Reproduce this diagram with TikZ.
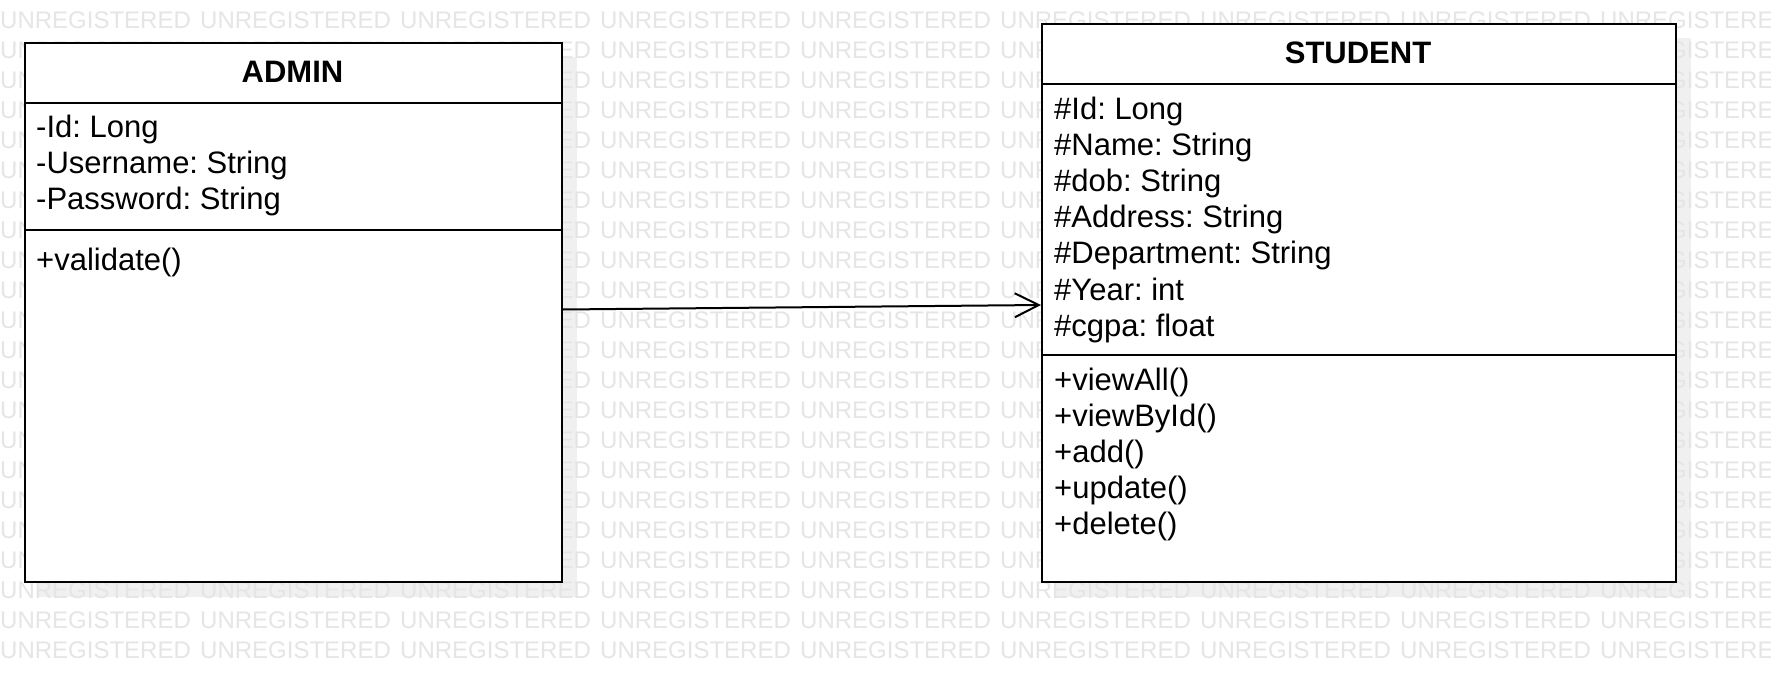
\documentclass[tikz,border=0pt]{standalone}
\usepackage{fontspec}
\setmainfont{Liberation Sans}
\usetikzlibrary{arrows.meta}
\definecolor{wm}{gray}{0.9}
\definecolor{shadowc}{gray}{0.94}
\frenchspacing
\begin{document}
\begin{tikzpicture}[x=1pt,y=-1pt,
  box/.style={draw=black, line width=2pt, fill=white, inner sep=0pt, anchor=north west},
  sep/.style={line width=2pt},
  txt/.style={anchor=base west, inner sep=0pt, font=\fontsize{31}{36}\selectfont},
  head/.style={anchor=base, inner sep=0pt, font=\fontsize{31}{36}\selectfont\bfseries},
  wmk/.style={anchor=base west, inner sep=0pt, text=wm, font=\fontsize{24}{28}\selectfont},
  assoc/.style={line width=2pt, -{Straight Barb[length=24pt, width=24pt, line width=2pt]}}]
\useasboundingbox (0,0) rectangle (1771,676);
\fill[white] (0,0) rectangle (1771,676);
% shadows
\fill[shadowc] (39,57) rectangle (577,597);
\fill[shadowc] (1056,38) rectangle (1691,597);
% watermark
\begin{scope}
\clip (0,0) rectangle (1771,676);
\foreach \r in {0,...,21}{
  \foreach \c in {0,...,8}{
    \node[wmk] (w\r-\c) at (\c*200, 28.6+\r*30) {UNREGISTERED};
  }
}
\end{scope}
% ADMIN class
\node[box, minimum width=537pt, minimum height=539pt] (admin) at (24,42) {};
\draw[sep] (24,103) -- (561,103);
\draw[sep] (24,230) -- (561,230);
\node[head] (adminT) at (292.5,83) {ADMIN};
\node[txt] (a1) at (36,138) {-Id: Long};
\node[txt] (a2) at (36,174) {-Username: String};
\node[txt] (a3) at (36,210) {-Password: String};
\node[txt] (am1) at (36,270) {+validate()};
% STUDENT class
\node[box, minimum width=634pt, minimum height=558pt] (student) at (1041,23) {};
\draw[sep] (1041,84) -- (1675,84);
\draw[sep] (1041,355) -- (1675,355);
\node[head] (studentT) at (1358,64) {STUDENT};
\node[txt] (s1) at (1054,120) {\#Id: Long};
\node[txt] (s2) at (1054,156) {\#Name: String};
\node[txt] (s3) at (1054,192) {\#dob: String};
\node[txt] (s4) at (1054,228) {\#Address: String};
\node[txt] (s5) at (1054,264) {\#Department: String};
\node[txt] (s6) at (1054,300) {\#Year: int};
\node[txt] (s7) at (1054,336) {\#cgpa: float};
\node[txt] (sm1) at (1054,390) {+viewAll()};
\node[txt] (sm2) at (1054,426) {+viewById()};
\node[txt] (sm3) at (1054,462) {+add()};
\node[txt] (sm4) at (1054,498) {+update()};
\node[txt] (sm5) at (1054,534) {+delete()};
% association
\draw[assoc] ([yshift=3pt]admin.east) -- ([yshift=-2pt]student.west);
\end{tikzpicture}
\end{document}
